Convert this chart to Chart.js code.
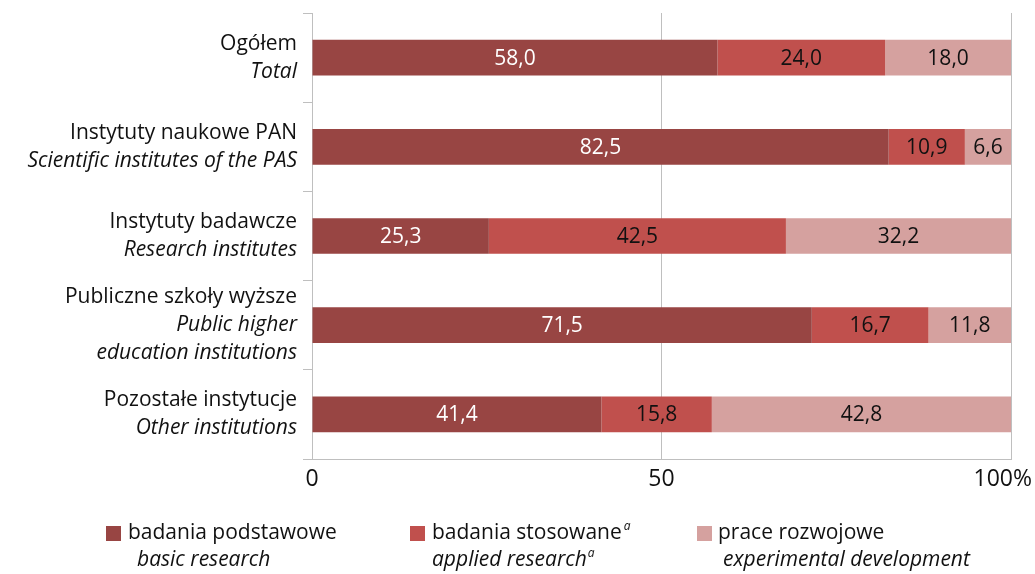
<!DOCTYPE html>
<html>
<head>
<meta charset="utf-8">
<script src="https://cdn.jsdelivr.net/npm/chart.js@4"></script>
<style>
  html, body { margin: 0; padding: 0; background: #fff; }
  #wrap { width: 1035px; height: 574px; }
</style>
</head>
<body>
<div id="wrap"><canvas id="chart" width="1035" height="574"></canvas></div>
<script>
// categories (Polish line + English lines)
const categoriesPl = ["Ogółem", "Instytuty naukowe PAN", "Instytuty badawcze", "Publiczne szkoły wyższe", "Pozostałe instytucje"];
const categoriesEn = [["Total"], ["Scientific institutes of the PAS"], ["Research institutes"], ["Public higher", "education institutions"], ["Other institutions"]];

// series values (%)
const basicResearch = [58.0, 82.5, 25.3, 71.5, 41.4];
const appliedResearch = [24.0, 10.9, 42.5, 16.7, 15.8];
const experimentalDev = [18.0, 6.6, 32.2, 11.8, 42.8];

// legend texts
const seriesPl = ["badania podstawowe", "badania stosowane", "prace rozwojowe"];
const seriesEn = ["basic research", "applied research", "experimental development"];
const seriesSup = ["", "a", ""];

// x ticks
const xTicks = [0, 50, 100];
const xTickLabels = ["0", "50", "100%"];

const FONT = "'Open Sans', 'Noto Sans', sans-serif";
const colors = ["#984543", "#c0504d", "#d5a19f"];
const labelColors = ["#ffffff", "#111111", "#111111"];

const fmt = v => v.toFixed(1).replace(".", ",");

const drawPlugin = {
    id: 'drawPlugin',
    afterDraw(chart) {
        const ctx = chart.ctx;
        const yScale = chart.scales.y;
        const xScale = chart.scales.x;
        ctx.save();

        // data labels
        ctx.font = "21px " + FONT;
        ctx.textAlign = "center";
        ctx.textBaseline = "middle";
        chart.data.datasets.forEach((ds, di) => {
            chart.getDatasetMeta(di).data.forEach((bar, i) => {
                const p = bar.getProps(['x', 'y', 'base'], true);
                ctx.fillStyle = labelColors[di];
                ctx.fillText(fmt(ds.data[i]), (p.x + p.base) / 2, p.y + 1);
            });
        });

        // category labels
        ctx.textAlign = "right";
        ctx.fillStyle = "#111";
        categoriesPl.forEach((pl, i) => {
            const lines = [{ t: pl, it: false }].concat(categoriesEn[i].map(t => ({ t: t, it: true })));
            const cy = yScale.getPixelForValue(i);
            const start = cy - (lines.length - 1) * 14;
            lines.forEach((ln, k) => {
                ctx.font = (ln.it ? "italic " : "") + "21px " + FONT;
                ctx.fillText(ln.t, 297, start + k * 28);
            });
        });

        // x tick labels
        ctx.font = "23px " + FONT;
        ctx.textAlign = "center";
        xTicks.forEach((v, i) => {
            let x = xScale.getPixelForValue(v);
            const w = ctx.measureText(xTickLabels[i]).width;
            if (x + w / 2 > chart.width - 3) x = chart.width - 3 - w / 2;
            ctx.fillText(xTickLabels[i], x, 479);
        });

        // legend
        const boxX = [106, 410, 697];
        const textX = [128, 432, 718];
        const enX = [137, 432, 723];
        ctx.textAlign = "left";
        ctx.textBaseline = "alphabetic";
        chart.data.datasets.forEach((ds, i) => {
            ctx.fillStyle = ds.backgroundColor;
            ctx.fillRect(boxX[i], 526, 15, 15);
            ctx.fillStyle = "#111";
            ctx.font = "21px " + FONT;
            ctx.fillText(seriesPl[i], textX[i], 539);
            let w1 = ctx.measureText(seriesPl[i]).width;
            ctx.font = "italic 21px " + FONT;
            ctx.fillText(seriesEn[i], enX[i], 566);
            let w2 = ctx.measureText(seriesEn[i]).width;
            if (seriesSup[i]) {
                ctx.font = "italic 12px " + FONT;
                ctx.fillText(seriesSup[i], textX[i] + w1 + 2, 530);
                ctx.fillText(seriesSup[i], enX[i] + w2 + 1, 557);
            }
        });
        ctx.restore();
    }
};

new Chart(document.getElementById("chart").getContext("2d"), {
    type: 'bar',
    data: {
        labels: categoriesPl,
        datasets: [
            { label: seriesPl[0], data: basicResearch, backgroundColor: colors[0] },
            { label: seriesPl[1], data: appliedResearch, backgroundColor: colors[1] },
            { label: seriesPl[2], data: experimentalDev, backgroundColor: colors[2] }
        ]
    },
    options: {
        indexAxis: 'y',
        responsive: false,
        animation: false,
        barPercentage: 1,
        categoryPercentage: 0.4,
        layout: { padding: { top: 13, right: 24, left: 0, bottom: 0 } },
        plugins: { legend: { display: false }, tooltip: { enabled: false } },
        scales: {
            x: {
                stacked: true,
                min: 0,
                max: 100,
                ticks: { display: false, stepSize: 50 },
                grid: { color: '#bfbfbf', lineWidth: 1, drawTicks: false },
                border: { display: true, color: '#bfbfbf' },
                afterFit: scale => { scale.height = 115; }
            },
            y: {
                stacked: true,
                ticks: { display: false },
                grid: { offset: true, drawOnChartArea: false, drawTicks: true, tickLength: 9, color: '#bfbfbf' },
                border: { display: true, color: '#bfbfbf' },
                afterFit: scale => { scale.width = 312; }
            }
        }
    },
    plugins: [drawPlugin]
});
</script>
</body>
</html>
